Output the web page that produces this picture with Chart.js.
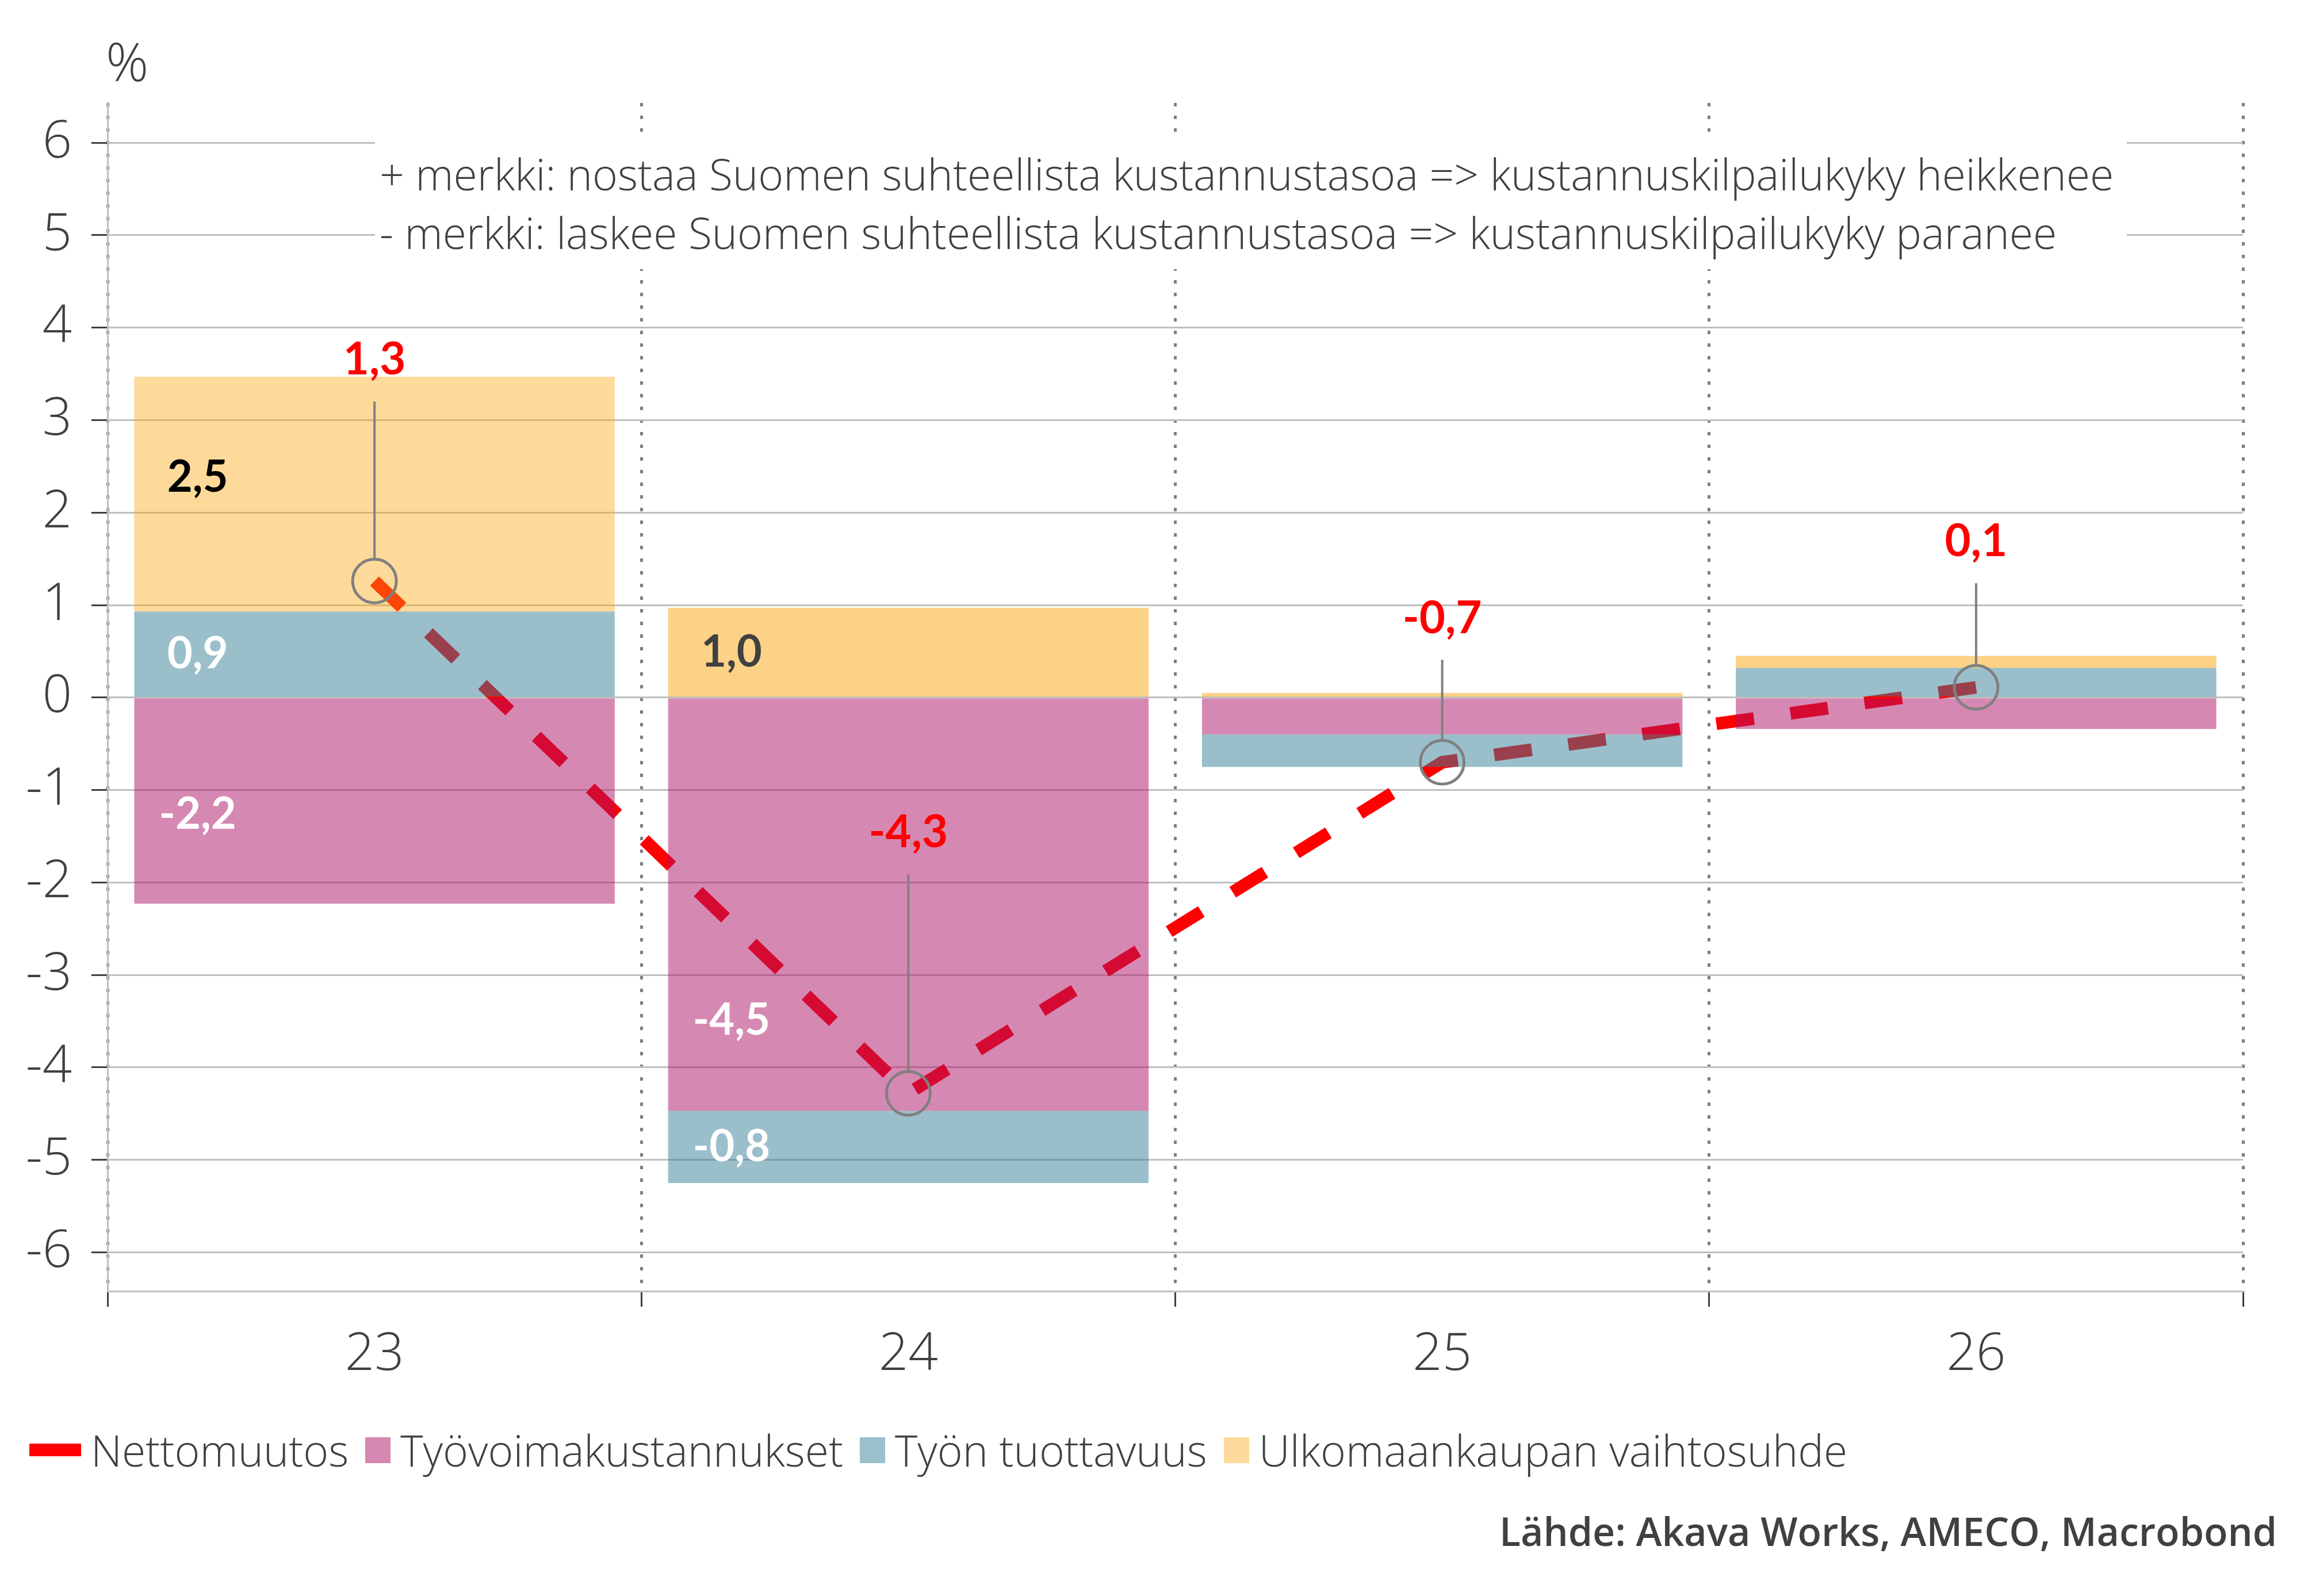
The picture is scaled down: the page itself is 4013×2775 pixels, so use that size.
<!DOCTYPE html>
<html>
<head>
<meta charset="utf-8">
<script src="https://cdn.jsdelivr.net/npm/chart.js@4/dist/chart.umd.min.js"></script>
<style>
html,body{margin:0;padding:0;background:#fff;}
body{width:4013px;height:2775px;position:relative;overflow:hidden;font-family:'Open Sans',sans-serif;color:#404040;}
#wrap{position:absolute;left:0;top:0;width:4013px;height:2775px;}
#unit{position:absolute;left:184px;top:60px;font-size:92px;font-weight:300;line-height:1;}
#note{position:absolute;left:652px;top:236px;width:3046px;height:232px;background:#fff;}
#note div{position:absolute;left:8px;font-size:75px;font-weight:300;white-space:nowrap;line-height:1;}
#legend{position:absolute;left:51px;top:2471px;height:100px;display:flex;align-items:center;white-space:nowrap;}
#legend .sw{display:inline-block;width:44px;height:45px;margin-right:17px;}
#legend .sw.ln{width:90px;height:22px;}
#legend .lt{font-size:75px;font-weight:300;line-height:1;margin-right:29px;}
#source{position:absolute;right:54px;top:2628px;font-size:68px;font-weight:600;line-height:1;white-space:nowrap;}
</style>
</head>
<body>
<div id="wrap"><canvas id="c" width="4013" height="2775"></canvas></div>
<div id="unit">%</div>
<div id="note">
  <div style="top:29px">+ merkki: nostaa Suomen suhteellista kustannustasoa =&gt; kustannuskilpailukyky heikkenee</div>
  <div style="top:131px">- merkki: laskee Suomen suhteellista kustannustasoa =&gt; kustannuskilpailukyky paranee</div>
</div>
<div id="legend"></div>
<div id="source">Lähde: Akava Works, AMECO, Macrobond</div>
<script>
// ---- data ----
const categories = ['23', '24', '25', '26'];
const seriesNames = ['Nettomuutos', 'Työvoimakustannukset', 'Työn tuottavuus', 'Ulkomaankaupan vaihtosuhde'];
const nettomuutos = [1.26, -4.28, -0.70, 0.11];
const tyovoimakustannukset = [-2.23, -4.47, -0.40, -0.34];
const tyonTuottavuus = [0.93, -0.78, -0.35, 0.32];
const vaihtosuhde = [2.54, 0.97, 0.05, 0.13];
const yTickValues = [-6, -5, -4, -3, -2, -1, 0, 1, 2, 3, 4, 5, 6];

// ---- styles ----
const STYLE = {
  text: '#404040',
  red: '#FF0000',
  pink: 'rgba(172,20,101,0.5)',
  blue: 'rgba(54,128,152,0.5)',
  orange: ['rgba(250,166,14,0.42)', 'rgba(250,166,14,0.5)', 'rgba(250,166,14,0.5)', 'rgba(250,166,14,0.5)'],
  legendSwatch: ['#FF0000', '#D588B1', '#9BC0CC', '#FDDA9B'],
  labelFont: 'bold 76px Lato, "Open Sans", sans-serif',
  calloutFont: 'bold 78px Lato, "Open Sans", sans-serif',
  labelMin: 0.5,
  labelXFrac: 0.132,
  labelShift: { '1:0': 24, '3:0': -29, '1:1': 202 },
  labelColor: { '3:0': '#000000', '3:1': '#404040' },
  calloutOffset: [384, 453, 250, 253],
  calloutRadius: 38
};

const fmt = v => v.toFixed(1).replace('.', ',');

// legend (HTML)
const leg = document.getElementById('legend');
seriesNames.forEach((n, i) => {
  const sw = document.createElement('span');
  sw.className = 'sw' + (i === 0 ? ' ln' : '');
  sw.style.background = STYLE.legendSwatch[i];
  const t = document.createElement('span');
  t.className = 'lt';
  t.textContent = n;
  leg.appendChild(sw); leg.appendChild(t);
});

const overlay = {
  id: 'overlay',
  afterDatasetsDraw(chart) {
    const ctx = chart.ctx;
    ctx.save();
    ctx.font = STYLE.labelFont;
    ctx.textAlign = 'center';
    ctx.textBaseline = 'middle';
    [1, 2, 3].forEach(di => {
      const meta = chart.getDatasetMeta(di);
      meta.data.forEach((bar, i) => {
        const v = chart.data.datasets[di].data[i];
        if (Math.abs(v) < STYLE.labelMin) return;
        const p = bar.getProps(['x', 'y', 'base', 'width'], true);
        const key = di + ':' + i;
        const cx = p.x - p.width / 2 + p.width * STYLE.labelXFrac;
        const cy = (p.y + p.base) / 2 + (STYLE.labelShift[key] || 0);
        ctx.fillStyle = STYLE.labelColor[key] || '#FFFFFF';
        ctx.fillText(fmt(v), cx, cy);
      });
    });
    // callouts for net line
    const lm = chart.getDatasetMeta(0);
    ctx.font = STYLE.calloutFont;
    lm.data.forEach((pt, i) => {
      const x = pt.x, y = pt.y;
      const r = STYLE.calloutRadius;
      const ly = y - STYLE.calloutOffset[i];
      ctx.strokeStyle = '#808080';
      ctx.lineWidth = 5;
      ctx.beginPath();
      ctx.arc(x, y, r, 0, Math.PI * 2);
      ctx.stroke();
      ctx.lineWidth = 4;
      ctx.beginPath();
      ctx.moveTo(x, ly + 72);
      ctx.lineTo(x, y - r);
      ctx.stroke();
      ctx.fillStyle = STYLE.red;
      ctx.fillText(fmt(chart.data.datasets[0].data[i]), x, ly);
    });
    ctx.restore();
  }
};

new Chart(document.getElementById('c'), {
  data: {
    labels: categories,
    datasets: [
      { type: 'line', label: seriesNames[0], data: nettomuutos, stack: 'net', order: 10,
        borderColor: STYLE.red, borderWidth: 22, borderDash: [66, 64], borderCapStyle: 'butt',
        pointRadius: 0, fill: false, tension: 0 },
      { type: 'bar', label: seriesNames[1], data: tyovoimakustannukset, stack: 's', order: 0,
        backgroundColor: STYLE.pink, barPercentage: 0.9, categoryPercentage: 1.0 },
      { type: 'bar', label: seriesNames[2], data: tyonTuottavuus, stack: 's', order: 0,
        backgroundColor: STYLE.blue, barPercentage: 0.9, categoryPercentage: 1.0 },
      { type: 'bar', label: seriesNames[3], data: vaihtosuhde, stack: 's', order: 0,
        backgroundColor: STYLE.orange, barPercentage: 0.9, categoryPercentage: 1.0 }
    ]
  },
  options: {
    responsive: false,
    devicePixelRatio: 1,
    animation: false,
    layout: { padding: { left: 0, top: 179, right: 113, bottom: 0 } },
    plugins: { legend: { display: false }, tooltip: { enabled: false } },
    scales: {
      x: {
        stacked: true,
        offset: true,
        afterFit: s => { s.height = 530; },
        grid: { offset: true, color: '#7F7F7F', lineWidth: 5, drawTicks: true,
                tickColor: '#404040', tickWidth: 3, tickLength: 27, tickBorderDash: [] },
        border: { display: true, color: '#BFBFBF', width: 3, dash: [6, 16] },
        ticks: { color: STYLE.text, font: { family: 'Open Sans', size: 90, weight: 300 }, padding: 30, maxRotation: 0 }
      },
      y: {
        stacked: true,
        min: -6.42, max: 6.43,
        afterFit: s => { s.width = 187; },
        afterBuildTicks: s => { s.ticks = yTickValues.map(v => ({ value: v })); },
        grid: { color: '#BFBFBF', lineWidth: 3, tickColor: '#404040', tickWidth: 3, tickLength: 28 },
        border: { display: true, color: '#BFBFBF', width: 3 },
        ticks: { color: STYLE.text, font: { family: 'Open Sans', size: 90, weight: 300 }, padding: 34 }
      }
    }
  },
  plugins: [overlay]
});
</script>
</body>
</html>
